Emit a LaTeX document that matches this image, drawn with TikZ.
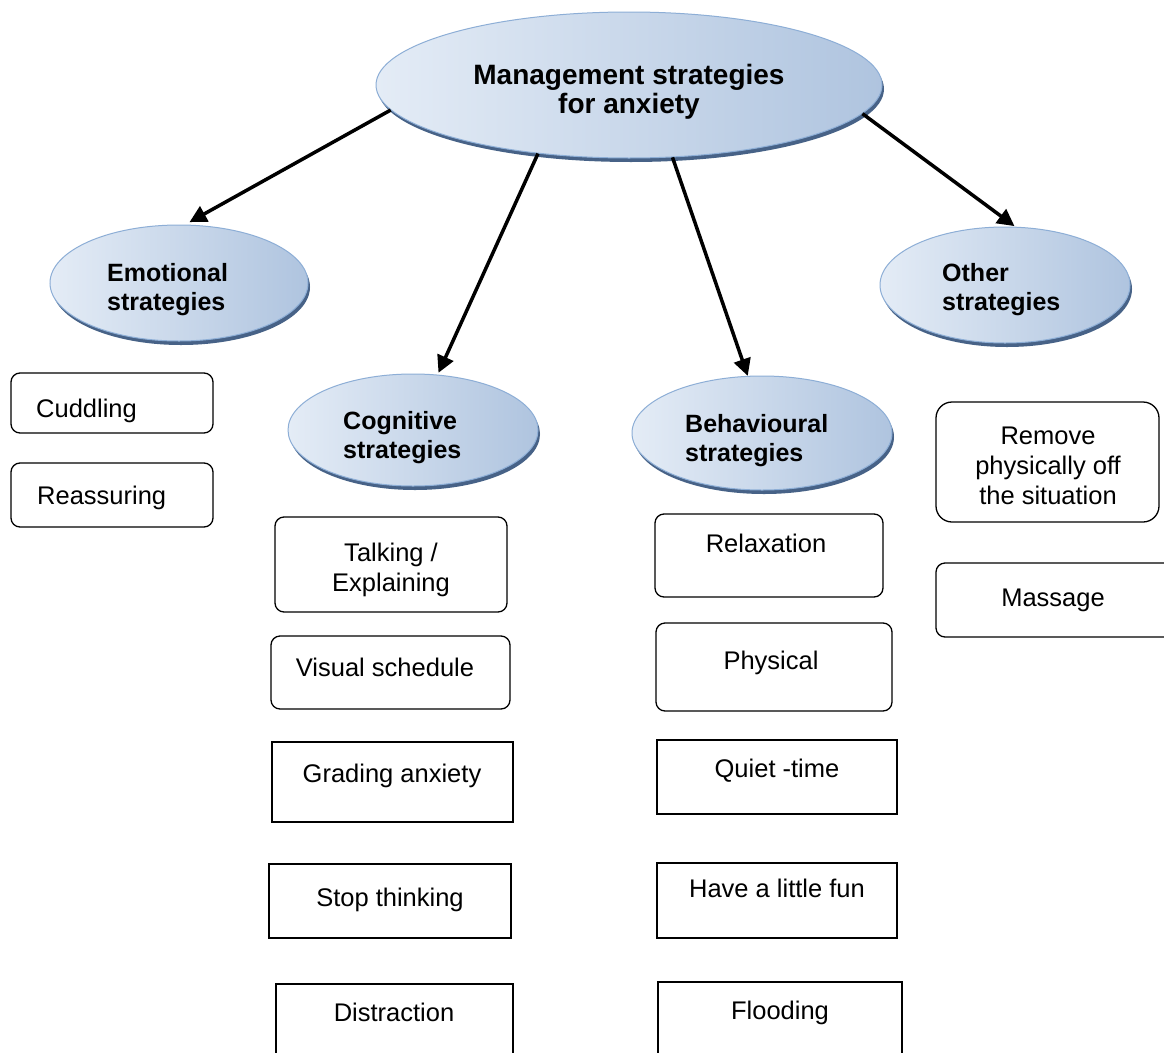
\documentclass[tikz,border=0pt]{standalone}
\usepackage{fontspec}
\setmainfont{Liberation Sans}
\usetikzlibrary{shapes.geometric,shadows,arrows.meta}
\definecolor{ellA}{HTML}{E4ECF6}
\definecolor{ellM}{HTML}{D2DFEF}
\definecolor{ellB}{HTML}{AFC4DF}
\definecolor{ellEdge}{HTML}{8DAED6}
\definecolor{ellShadow}{HTML}{34527A}
\tikzset{
 oval/.style={ellipse, inner sep=0pt, draw=ellEdge, line width=1pt, left color=ellA, middle color=ellM, right color=ellB,
   drop shadow={shadow xshift=2pt, shadow yshift=-4pt, fill=ellShadow, opacity=0.9}},
 rbox/.style={draw, line width=1.3pt, rounded corners=9pt, inner sep=0pt},
 sbox/.style={draw, line width=1.6pt, inner sep=0pt},
 lbl/.style={font=\fontsize{25.5}{30}\selectfont, inner sep=0pt, align=center},
 llbl/.style={font=\fontsize{25.5}{30}\selectfont, inner sep=0pt, anchor=west},
 blbl/.style={font=\bfseries\fontsize{25}{29}\selectfont, inner sep=0pt, align=left, anchor=west},
 conn/.style={line width=3.5pt, -{Triangle[length=17pt,width=17pt]}},
}
\begin{document}
\begin{tikzpicture}[x=1pt,y=-1pt]
\clip (0,0) rectangle (1164,1052);
\fill[white] (0,0) rectangle (1164,1052);

% ellipses
\node[oval, minimum width=506pt, minimum height=146pt] (top) at (629,85) {};
\node[oval, minimum width=258pt, minimum height=116pt] (emo) at (179,283) {};
\node[oval, minimum width=250pt, minimum height=112pt] (cog) at (413,430) {};
\node[oval, minimum width=260pt, minimum height=114pt] (beh) at (762,433) {};
\node[oval, minimum width=250pt, minimum height=116pt] (oth) at (1005,285) {};

\node[font=\bfseries\fontsize{28}{29}\selectfont, inner sep=0pt, align=center] (topt) at (629,92) {Management strategies\\for anxiety};
\node[blbl] (emot) at (107,290) {Emotional\\strategies};
\node[blbl] (cogt) at (343,437.5) {Cognitive\\strategies};
\node[blbl] (beht) at (685,440.5) {Behavioural\\strategies};
\node[blbl] (otht) at (942,290) {Other\\strategies};

% emotional boxes
\node[rbox, minimum width=202pt, minimum height=60pt] (cud) at (112,403) {};
\node[llbl] (cudt) at (36,410.5) {Cuddling};
\node[rbox, minimum width=202pt, minimum height=64pt] (rea) at (112,495) {};
\node[llbl] (reat) at (37,497.5) {Reassuring};

% cognitive boxes
\node[rbox, minimum width=232pt, minimum height=95pt] (tal) at (391,564.5) {};
\node[lbl] (talt) at (391,570) {Talking /\\Explaining};
\node[rbox, minimum width=239pt, minimum height=73pt] (vis) at (390.5,672.5) {};
\node[lbl] (vist) at (385,667) {Visual schedule};
\node[sbox, minimum width=241pt, minimum height=80pt] (gra) at (392.5,782) {};
\node[lbl] (grat) at (392,775.5) {Grading anxiety};
\node[sbox, minimum width=242pt, minimum height=74pt] (sto) at (390,901) {};
\node[lbl] (stot) at (390,899.5) {Stop thinking};
\node[sbox, minimum width=237pt, minimum height=86pt] (dis) at (394.5,1027) {};
\node[lbl] (dist) at (394,1012) {Distraction};

% behavioural boxes
\node[rbox, minimum width=228pt, minimum height=83pt] (rel) at (769,555.5) {};
\node[lbl] (relt) at (766,543) {Relaxation};
\node[rbox, minimum width=236pt, minimum height=88pt] (phy) at (774,667) {};
\node[lbl] (phyt) at (771,662.5) {Physical};
\node[sbox, minimum width=240pt, minimum height=74pt] (qui) at (777,777) {};
\node[lbl] (quit) at (777,771) {Quiet -time};
\node[sbox, minimum width=240pt, minimum height=75pt] (fun) at (777,900.5) {};
\node[lbl] (funt) at (777,888) {Have a little fun};
\node[sbox, minimum width=244pt, minimum height=88pt] (flo) at (780,1026) {};
\node[lbl] (flot) at (780,1012.5) {Flooding};

% other boxes
\node[rbox, rounded corners=16pt, minimum width=223pt, minimum height=120pt] (rem) at (1047.5,462) {};
\node[lbl] (remt) at (1048,466) {Remove\\physically off\\the situation};
\node[rbox, minimum width=239pt, minimum height=74pt] (mas) at (1055.5,600) {};
\node[lbl] (mast) at (1053,600.5) {Massage};

% connectors
\draw[conn, shorten >=5pt] (top.186.7) -- (emo.84);
\draw[conn, shorten >=2pt] (top.217.8) -- (cog.66);
\draw[conn] (top.301.4) -- (beh.104);
\draw[conn, shorten >=1pt] (top.353.3) -- (oth.80);
\end{tikzpicture}
\end{document}
